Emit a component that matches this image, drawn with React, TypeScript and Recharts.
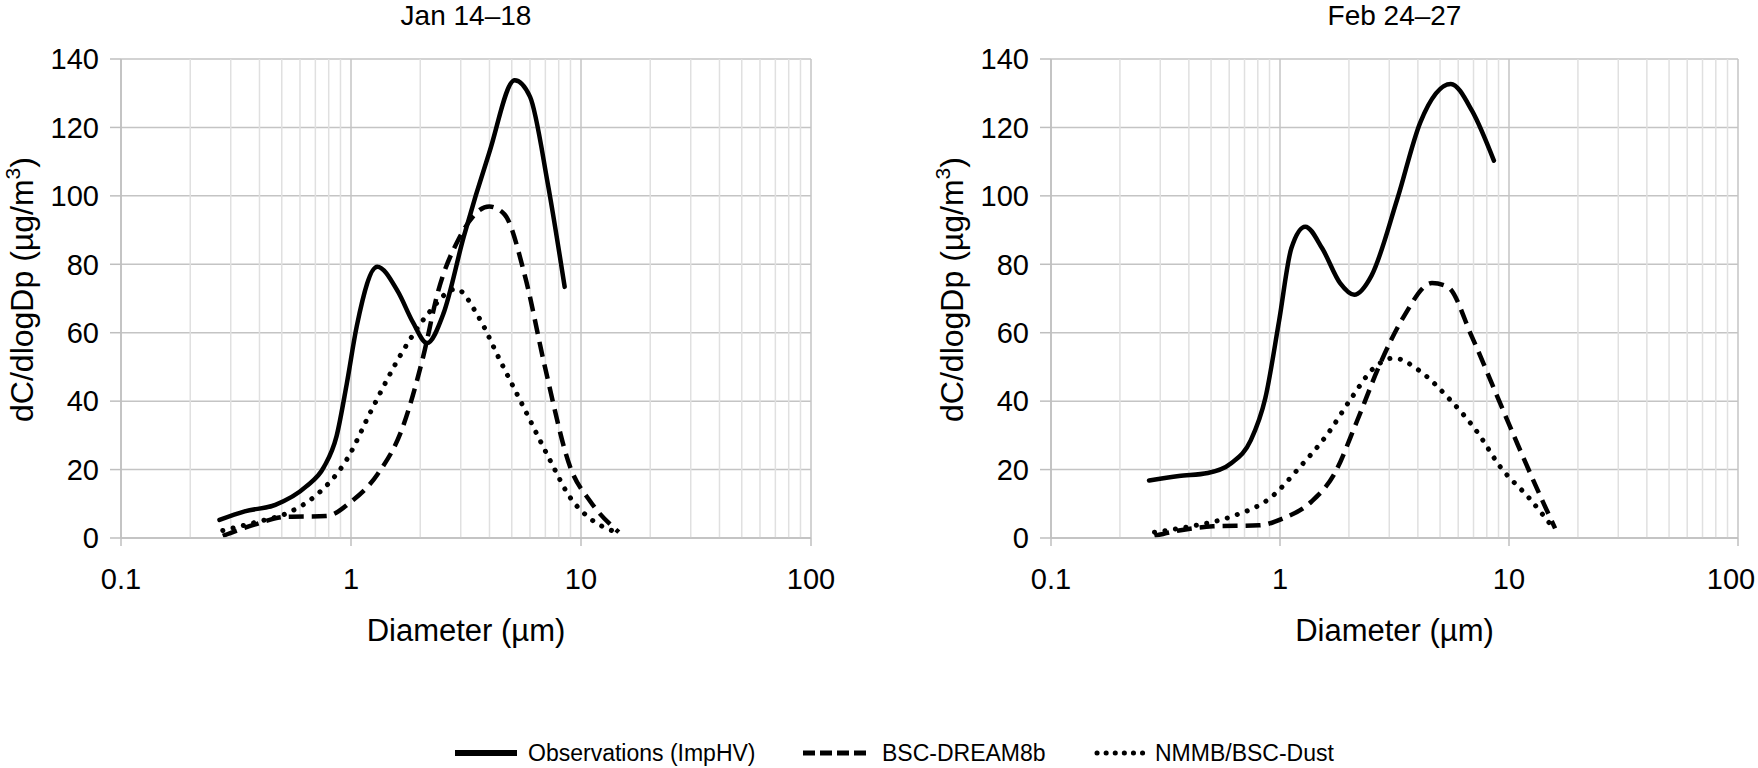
import React from "react";
import { CartesianGrid, Label, Line, LineChart, ReferenceLine, XAxis, YAxis } from "recharts";

// diameters (µm) and dC/dlogDp (µg/m3)
const janObsD = [0.268, 0.345, 0.469, 0.637, 0.762, 0.865, 0.958, 1.06, 1.3, 1.6, 1.86, 2.14, 2.52, 3.09, 3.99, 5.15, 6.0, 7.17, 8.49];
const janObsV = [5.3, 7.8, 9.7, 15, 20.7, 29.7, 45, 62, 79.3, 72, 63, 57, 65.5, 88, 112.6, 133.8, 129, 103.6, 73.4];
const janDreamD = [0.277, 0.38, 0.52, 0.78, 1.0, 1.3, 1.67, 2.06, 2.39, 2.94, 3.99, 4.65, 5.7, 6.98, 8.98, 11.0, 14.6];
const janDreamV = [0.6, 3.9, 6.2, 6.4, 10.6, 18.5, 32, 53, 72, 87.4, 96.9, 94.6, 76.7, 49.8, 20.7, 10.6, 1.7];
const janNmmbD = [0.277, 0.38, 0.55, 0.7, 0.96, 1.23, 1.67, 2.16, 2.86, 3.6, 4.44, 5.7, 7.3, 8.98, 11.0, 14.2];
const janNmmbV = [2.2, 4.5, 7.8, 12.3, 23, 37.5, 54.3, 65.5, 72.8, 64.4, 52, 37.5, 23, 11.8, 5.6, 1.7];

const febObsD = [0.268, 0.362, 0.484, 0.61, 0.746, 0.863, 0.99, 1.12, 1.29, 1.53, 1.83, 2.11, 2.51, 3.25, 4.1, 5.57, 6.89, 8.59];
const febObsV = [16.8, 18.1, 19, 21.8, 28.6, 40.9, 63.3, 84.6, 91, 84.6, 74.5, 71.1, 76.7, 99, 121.5, 132.7, 124.9, 110.3];
const febDreamD = [0.283, 0.362, 0.51, 0.81, 1.02, 1.37, 1.72, 2.17, 2.74, 3.45, 4.61, 5.4, 6.89, 8.68, 10.9, 13.8, 15.9];
const febDreamV = [0.6, 2.2, 3.4, 3.7, 5.6, 10.6, 18.5, 34.2, 51, 64.4, 74.5, 73.4, 58.8, 43, 27.4, 11.8, 2.8];
const febNmmbD = [0.283, 0.407, 0.61, 0.91, 1.22, 1.63, 2.05, 2.58, 3.13, 4.1, 5.44, 7.3, 9.18, 12.2, 15.9];
const febNmmbV = [1.7, 3.4, 6.2, 11.8, 20.7, 30.8, 40.9, 49.8, 52.6, 48.7, 40.9, 30.8, 20.7, 11.8, 2.2];

const xTicks = [0.1, 1, 10, 100];
const minorTicks = [0.2, 0.3, 0.4, 0.5, 0.6, 0.7, 0.8, 0.9, 2, 3, 4, 5, 6, 7, 8, 9, 20, 30, 40, 50, 60, 70, 80, 90];
const yTicks = [0, 20, 40, 60, 80, 100, 120, 140];
const seriesNames = ["Observations (ImpHV)", "BSC-DREAM8b", "NMMB/BSC-Dust"];

const toRows = (d: number[], v: number[]) => d.map((x, i) => ({ d: x, v: v[i] }));

const FONT = "'Liberation Sans', Arial, Helvetica, sans-serif";

function YTitle(props: any) {
  const vb = props.viewBox;
  const x = vb.x + 33;
  const y = vb.y + vb.height / 2 - 9;
  return (
    <text x={x} y={y} transform={`rotate(-90 ${x} ${y})`} textAnchor="middle" fontSize={32} fill="#000">
      dC/dlogDp  (µg/m<tspan dy={-13} fontSize={21}>3</tspan>
      <tspan dy={13}>)</tspan>
    </text>
  );
}

function XTitle(props: any) {
  const vb = props.viewBox;
  return (
    <text x={vb.x + vb.width / 2} y={vb.y + 103} textAnchor="middle" fontSize={31} fill="#000">
      Diameter (µm)
    </text>
  );
}

function makeXTick(lastShift: number) {
  return function XTick(props: any) {
    const { x, y, payload } = props;
    const dx = payload.value === 100 ? lastShift : 0;
    return (
      <text x={x + dx} y={y} dy="0.71em" textAnchor="middle" fontSize={29} fill="#000">
        {payload.value}
      </text>
    );
  };
}

interface PanelProps {
  obs: { d: number; v: number }[];
  dream: { d: number; v: number }[];
  nmmb: { d: number; v: number }[];
  left: number;
  right: number;
  lastShift: number;
}

function Panel({ obs, dream, nmmb, left, right, lastShift }: PanelProps) {
  return (
    <LineChart width={879} height={700} margin={{ top: 59, right: right, bottom: 62, left: left }}>
      <CartesianGrid stroke="#c4c4c4" strokeWidth={1.5} />
      {minorTicks.map((t) => (
        <ReferenceLine key={t} x={t} stroke="#e0e0e0" strokeWidth={1.5} />
      ))}
      <XAxis
        dataKey="d"
        type="number"
        scale="log"
        domain={[0.1, 100]}
        ticks={xTicks}
        allowDataOverflow
        stroke="#bfbfbf"
        strokeWidth={1.5}
        tick={makeXTick(lastShift)}
        tickSize={8}
        tickMargin={22}
        height={100}
      >
        <Label content={XTitle} />
      </XAxis>
      <YAxis
        type="number"
        domain={[0, 140]}
        ticks={yTicks}
        stroke="#bfbfbf"
        strokeWidth={1.5}
        tick={{ fill: "#000", fontSize: 29 }}
        tickSize={11}
        tickMargin={11}
        width={121}
      >
        <Label content={YTitle} />
      </YAxis>
      <Line data={nmmb} dataKey="v" type="monotone" stroke="#000" strokeWidth={5} strokeDasharray="0.1 10.5" strokeLinecap="round" dot={false} isAnimationActive={false} />
      <Line data={dream} dataKey="v" type="monotone" stroke="#000" strokeWidth={4.5} strokeDasharray="15 8" dot={false} isAnimationActive={false} />
      <Line data={obs} dataKey="v" type="monotone" stroke="#000" strokeWidth={4.5} strokeLinecap="round" dot={false} isAnimationActive={false} />
    </LineChart>
  );
}

function LegendSample({ kind, width }: { kind: number; width: number }) {
  const dash = kind === 1 ? "12 5" : kind === 2 ? "0.1 9" : undefined;
  return (
    <svg width={width} height={10} style={{ display: "block" }}>
      <line
        x1={kind === 2 ? 4 : 0}
        y1={5}
        x2={kind === 2 ? width - 3 : width}
        y2={5}
        stroke="#000"
        strokeWidth={kind === 0 ? 6 : 5}
        strokeDasharray={dash}
        strokeLinecap={kind === 1 ? "butt" : "round"}
      />
    </svg>
  );
}

export default function App() {
  const legendItems = [
    { line: 455, w: 62, text: 528 },
    { line: 803, w: 67, text: 882 },
    { line: 1093, w: 55, text: 1155 },
  ];
  return (
    <div style={{ position: "absolute", left: 0, top: 0, width: 1758, height: 768, background: "#fff", fontFamily: FONT, overflow: "hidden" }}>
      <div style={{ position: "absolute", left: 121, width: 690, top: 2, lineHeight: "28px", fontSize: 28, textAlign: "center" }}>Jan 14–18</div>
      <div style={{ position: "absolute", left: 1051, width: 687, top: 2, lineHeight: "28px", fontSize: 28, textAlign: "center" }}>Feb 24–27</div>
      <div style={{ position: "absolute", left: 0, top: 0 }}>
        <Panel obs={toRows(janObsD, janObsV)} dream={toRows(janDreamD, janDreamV)} nmmb={toRows(janNmmbD, janNmmbV)} left={0} right={68} lastShift={0} />
      </div>
      <div style={{ position: "absolute", left: 879, top: 0 }}>
        <Panel obs={toRows(febObsD, febObsV)} dream={toRows(febDreamD, febDreamV)} nmmb={toRows(febNmmbD, febNmmbV)} left={51} right={20} lastShift={-7} />
      </div>
      {legendItems.map((it, i) => (
        <React.Fragment key={i}>
          <div style={{ position: "absolute", left: it.line, top: 748 }}>
            <LegendSample kind={i} width={it.w} />
          </div>
          <div style={{ position: "absolute", left: it.text, top: 739, fontSize: 23, lineHeight: "28px", whiteSpace: "nowrap" }}>
            {seriesNames[i]}
          </div>
        </React.Fragment>
      ))}
    </div>
  );
}
